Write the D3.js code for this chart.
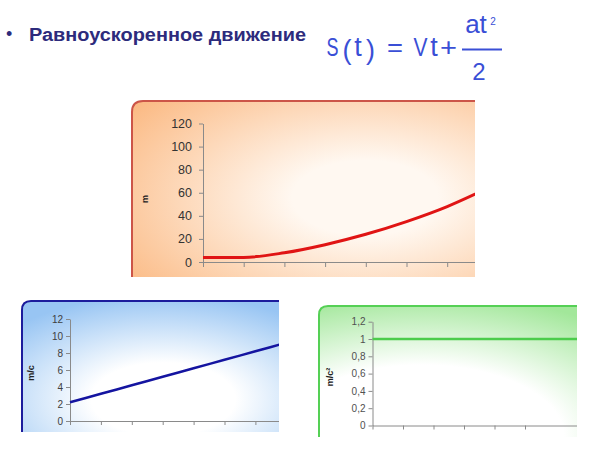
<!DOCTYPE html>
<html>
<head>
<meta charset="utf-8">
<script src="https://cdn.jsdelivr.net/npm/d3@7"></script>
<style>
  body { margin: 0; background: #fff; }
  svg { display: block; }
</style>
</head>
<body>
<script>
// путь S(t)
var tS = [0, 1, 2, 3, 4, 5, 6, 7];
var sVals = [4, 4, 8, 15, 24, 35, 48, 64];
var sTicks = [0, 20, 40, 60, 80, 100, 120];
var sTickLabels = ["0", "20", "40", "60", "80", "100", "120"];

// скорость V(t)
var tV = [0, 1, 2, 3, 4, 5, 6, 7];
var vVals = [2.2, 3.2, 4.2, 5.2, 6.2, 7.2, 8.2, 9.2];
var vTicks = [0, 2, 4, 6, 8, 10, 12];
var vTickLabels = ["0", "2", "4", "6", "8", "10", "12"];

// ускорение a(t)
var tA = [0, 1, 2, 3, 4, 5, 6, 7];
var aVals = [1, 1, 1, 1, 1, 1, 1, 1];
var aTicks = [0, 0.2, 0.4, 0.6, 0.8, 1, 1.2];
var aTickLabels = ["0", "0,2", "0,4", "0,6", "0,8", "1", "1,2"];
var aXTicks = [0, 1, 2, 3, 4, 5];

var title = "Равноускоренное движение";
var unitLabels = ["m", "m/c", "m/c²"];

var width = 600, height = 450;

var svg = d3.select("body").append("svg")
  .attr("width", width)
  .attr("height", height);
var defs = svg.append("defs");

function gradient(id, cx, cy, r, mid, inner, color) {
  var g = defs.append("radialGradient").attr("id", id)
    .attr("cx", cx).attr("cy", cy).attr("r", r);
  g.append("stop").attr("offset", 0).attr("stop-color", inner);
  g.append("stop").attr("offset", mid).attr("stop-color", inner);
  g.append("stop").attr("offset", 1).attr("stop-color", color);
}
gradient("gOrange", 0.68, 0.55, 0.85, 0.25, "#fff8f1", "#fbba84");
gradient("gBlue", 0.55, 0.75, 0.8, 0.35, "#ffffff", "#98c5f3");
gradient("gGreen", 0.4, 1.0, 1.1, 0.5, "#ffffff", "#a2e79a");

// --- заголовок ---
svg.append("text").attr("x", 6).attr("y", 40)
  .attr("font-family", "Liberation Sans, Arial, sans-serif")
  .attr("font-size", 18).attr("fill", "#2d2b7c").text("•");
svg.append("text").attr("x", 29).attr("y", 41)
  .attr("font-family", "Liberation Sans, Arial, sans-serif")
  .attr("font-weight", "bold").attr("font-size", 18)
  .attr("textLength", 277).attr("lengthAdjust", "spacingAndGlyphs")
  .attr("fill", "#2d2b7c").text(title);

// --- формула ---
var fCol = "#3a4fd6";
var formula = svg.append("g")
  .attr("font-family", "Liberation Sans, Arial, sans-serif")
  .attr("fill", fCol).attr("text-anchor", "middle");
// [текст, центр x, y, размер, ширина или 0]
var parts = [["S", 332.5, 56, 25, 12], ["(", 347, 59, 27, 0], ["t", 358, 56, 27, 0], [")", 370.5, 59, 27, 0],
             ["=", 395, 56, 25, 16], ["V", 420.5, 56, 25, 14], ["t", 434, 56, 27, 0], ["+", 448.5, 56, 25, 17],
             ["at", 476, 33, 26, 0], ["2", 493, 25, 10, 0], ["2", 479, 80, 24, 0]];
parts.forEach(function(p) {
  var tx = formula.append("text").attr("x", p[1]).attr("y", p[2])
    .attr("font-size", p[3]).text(p[0]);
  if (p[4]) tx.attr("textLength", p[4]).attr("lengthAdjust", "spacingAndGlyphs");
});
svg.append("line").attr("x1", 462).attr("x2", 502).attr("y1", 49.5).attr("y2", 49.5)
  .attr("stroke", fCol).attr("stroke-width", 2);

// --- панели ---
function drawPanel(cfg) {
  var f = cfg.frame;
  var r = cfg.radius;
  defs.append("clipPath").attr("id", cfg.id + "clip")
    .append("rect").attr("x", f[0]).attr("y", f[1]).attr("width", f[2]).attr("height", f[3]);

  var g = svg.append("g").attr("clip-path", "url(#" + cfg.id + "clip)");
  g.append("path")
    .attr("d", "M" + f[0] + "," + (f[1] + f[3]) + "V" + (f[1] + r) +
      "Q" + f[0] + "," + f[1] + " " + (f[0] + r) + "," + f[1] + "H" + (f[0] + f[2]) +
      "V" + (f[1] + f[3]) + "Z")
    .attr("fill", "url(#" + cfg.grad + ")");

  var x = d3.scaleLinear().domain([0, 7]).range([cfg.x0, cfg.x0 + 7 * cfg.step]);
  var y = d3.scaleLinear().domain(cfg.yDomain).range(cfg.yRange);

  var yAxis = d3.axisLeft(y).tickValues(cfg.yTicks)
    .tickFormat(function(d, i) { return cfg.yLabels[i]; })
    .tickSize(4).tickSizeOuter(0).tickPadding(cfg.pad);
  var ya = g.append("g").attr("transform", "translate(" + cfg.x0 + ",0)").call(yAxis);
  ya.selectAll("path, line").attr("stroke", "#8a8a8a");
  ya.selectAll("text").attr("font-family", "Liberation Sans, Arial, sans-serif")
    .attr("font-size", cfg.fs).attr("fill", cfg.textCol);

  var xAxis = d3.axisBottom(x).tickValues(cfg.xTicks).tickFormat("")
    .tickSize(cfg.xTickSize).tickSizeOuter(0);
  var xa = g.append("g").attr("transform", "translate(0," + cfg.yRange[0] + ")").call(xAxis);
  xa.selectAll("path, line").attr("stroke", "#8a8a8a");

  var line = d3.line()
    .x(function(d, i) { return x(cfg.t[i]); })
    .y(function(d) { return y(d); })
    .curve(d3.curveMonotoneX);
  g.append("path").attr("d", line(cfg.vals))
    .attr("fill", "none").attr("stroke", cfg.lineCol)
    .attr("stroke-width", cfg.lw);

  g.append("text")
    .attr("transform", "translate(" + cfg.label[0] + "," + cfg.label[1] + ") rotate(-90)")
    .attr("text-anchor", "middle")
    .attr("font-family", "Liberation Sans, Arial, sans-serif")
    .attr("font-weight", "bold").attr("font-size", 9).attr("fill", "#222")
    .text(cfg.labelText);

  svg.append("path")
    .attr("d", "M" + f[0] + "," + (f[1] + f[3]) + "V" + (f[1] + r) +
      "Q" + f[0] + "," + f[1] + " " + (f[0] + r) + "," + f[1] + "H" + (f[0] + f[2]))
    .attr("fill", "none").attr("stroke", cfg.border).attr("stroke-width", 2);
}

drawPanel({
  id: "s", frame: [132, 101, 343, 176], radius: 11, grad: "gOrange", border: "#cc5548",
  x0: 203, step: 40.7, yDomain: [0, 120], yRange: [262, 123.5],
  yTicks: sTicks, yLabels: sTickLabels, xTicks: tS, xTickSize: 5,
  t: tS, vals: sVals, lineCol: "#e01414", lw: 3, fs: 12.5, pad: 7, textCol: "#333",
  label: [148, 199], labelText: unitLabels[0]
});

drawPanel({
  id: "v", frame: [22, 301, 257, 131], radius: 9, grad: "gBlue", border: "#1c1c9c",
  x0: 70, step: 30.9, yDomain: [0, 12], yRange: [421, 319],
  yTicks: vTicks, yLabels: vTickLabels, xTicks: tV, xTickSize: 4,
  t: tV, vals: vVals, lineCol: "#1414a0", lw: 2.5, fs: 10, pad: 3, textCol: "#404040",
  label: [34, 373], labelText: unitLabels[1]
});

drawPanel({
  id: "a", frame: [319, 306, 258, 131], radius: 9, grad: "gGreen", border: "#55d055",
  x0: 372.5, step: 30.5, yDomain: [0, 1.2], yRange: [425.5, 321.7],
  yTicks: aTicks, yLabels: aTickLabels, xTicks: aXTicks, xTickSize: 4,
  t: tA, vals: aVals, lineCol: "#4ccc4c", lw: 2.5, fs: 10, pad: 3, textCol: "#505050",
  label: [333, 377], labelText: unitLabels[2]
});
</script>
</body>
</html>
